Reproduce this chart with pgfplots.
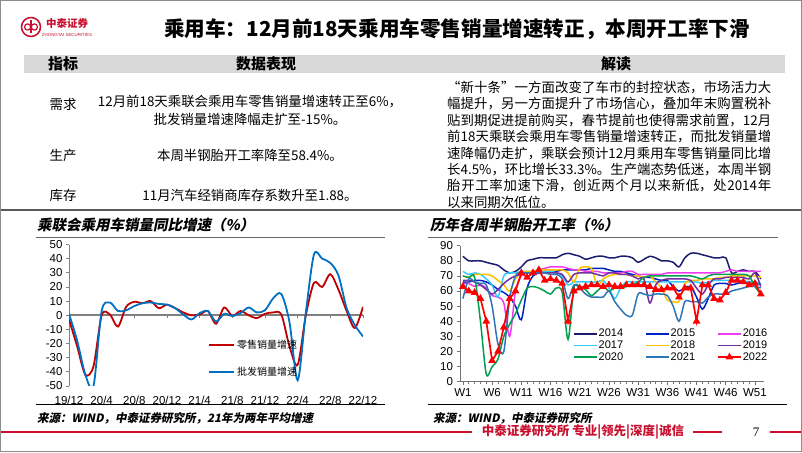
\documentclass[border=0pt]{standalone}
\usepackage{fontspec}
\usepackage{pgfplots}
\usepackage{pgfplotstable}
\pgfplotsset{compat=1.18}
\setmainfont{Liberation Sans}
\newfontfamily\cjk{Noto Sans CJK SC}
\newfontfamily\cjkit{Noto Sans CJK SC}[FakeSlant=0.2]
\newfontfamily\numserif{Liberation Serif}
\XeTeXlinebreaklocale "zh"
\XeTeXlinebreakskip=0pt plus 2pt

\definecolor{ztred}{RGB}{200,16,46}
\definecolor{retail}{RGB}{192,0,0}
\definecolor{whole}{RGB}{0,112,192}
\definecolor{c14}{RGB}{28,28,110}
\definecolor{c15}{RGB}{0,32,200}
\definecolor{c16}{RGB}{238,60,238}
\definecolor{c17}{RGB}{51,204,255}
\definecolor{c18}{RGB}{255,192,0}
\definecolor{c19}{RGB}{112,48,160}
\definecolor{c20}{RGB}{0,160,80}
\definecolor{c21}{RGB}{46,117,182}
\definecolor{c22}{RGB}{255,0,0}

% 乘联会零售 / 批发同比 (19/12 = 0 ... 22/12 = 36)
\pgfplotstableread{
m  retail whole
0  -3    1
1  -22  -18
2  -42  -42
3  -36  -50
4   0    3
5   0.5  9
6  -8    3
7   6    3.5
8   9.5  6.5
9   8.5  8.5
10  10   9
11  5    8
12  7.5  7.5
13  5    5
14  2    0.5
15  0   -3
16  0.5  1.5
17  3    3
18 -6   -4.5
19  5.5  1
20 -0.5 -0.5
21  3    1.5
22  0    5.5
23 -2    2
24  1    3.5
25  2    12
26  0.5  15
27 -22  -5
28 -35  -46
29  0    2
30  23   43
31  20   40
32  29   37
33  18   28
34  3    5
35 -9   -7
36  6   -15
}\salestab

% 半钢胎开工率, 各年各周
\pgfplotstableread{
w  y14 y15 y16 y17 y18 y19 y20 y21 y22
1  83 66 65 73 70 67 70 55 63
2  80 66 65 71 69 67 69 68 60
3  80 67 63 72 71 66 69 66 59
4  80 67 64 71 71 64 40 65 55
5  79 66 62 68 71 61 5  64 40
6  78 64 57 64 70 58 10 50 14
7  77 61 56 56 67 61 15 25 20
8  74 59 52 70 64 65 30 20 36
9  72 56 30 72 60 68 38 55 55
10 73 50 60 72 68 70 45 70 60
11 76 41 70 73 72 71 54 72 72
12 80 62 72 73 73 72 62 72 69
13 81 70 73 73 73 72 63 72 72
14 82 72 74 73 74 72 62 72 74
15 82 73 75 73 74 72 60 72 67
16 82 73 76 73 74 72 58 71 68
17 82 73 76 72 74 72 62 71 67
18 84 74 76 70 74 71 59 68 65
19 85 74 75 64 72 66 28 55 40
20 84 74 74 66 66 71 62 64 60
21 83 74 74 66 75 72 63 62 62
22 81 74 73 66 76 72 61 58 63
23 82 75 73 66 75 72 57 56 64
24 83 75 73 66 64 71 60 56 64
25 83 75 72 67 68 70 63 56 63
26 82 74 72 62 70 72 60 60 64
27 82 73 72 55 71 72 62 53 63
28 83 73 72 62 71 71 62 48 63
29 83 72 73 66 71 71 63 44 64
30 82 71 73 66 70 70 64 44 64
31 79 70 71 66 70 68 66 58 64
32 81 69 71 66 69 68 69 58 64
33 83 69 71 66 70 52 70 57 63
34 82 68 71 66 66 64 70 58 61
35 80 67 71 66 62 67 70 58 61
36 80 67 72 66 54 68 70 57 62
37 79 63 72 66 53 68 70 50 62
38 76 60 72 66 53 68 70 40 56
39 82 62 72 66 65 68 70 53 62
40 85 63 72 66 67 67 70 53 62
41 85 56 72 66 67 62 69 53 40
42 84 48 72 65 68 58 68 52 64
43 83 55 72 66 68 64 70 56 64
44 82 64 72 67 68 68 71 58 55
45 82 65 72 67 69 68 71 58 54
46 82 65 73 67 69 69 71 58 59
47 72 64 74 67 70 69 71 60 67
48 73 65 73 67 70 69 71 61 67
49 74 66 73 67 70 69 71 62 66
50 73 65 73 66 70 68 70 63 64
51 73 66 73 66 70 72 63 63 65
52 68 64 73 65 69 63 58 62 58
}\tyretab

\begin{document}
\begin{tikzpicture}
\begin{scope}[x=1pt,y=1pt]
\path[use as bounding box] (0,0) rectangle (802,452);
\draw[black!45, line width=1.2pt] (0.6,0.6) rectangle (801.4,451.4);

% logo + title
\draw[ztred, line width=1.5pt] (31,425) circle (9.5);
\draw[ztred, line width=1.2pt] (27.6,425) circle (3.1) (34.4,425) circle (3.1);
\draw[ztred, line width=1.2pt] (31,418.5) -- (31,431.5);
\node[ztred, font=\cjk\bfseries\fontsize{10.5}{10.5}\selectfont] at (67,429) {中泰证券};
\node[ztred, font=\fontsize{4.4}{4.4}\selectfont] at (67,417.5) {ZHONGTAI SECURITIES};
\node[font=\cjk\bfseries\fontsize{20.6}{21}\selectfont] at (457,423)
  {乘用车：12月前18天乘用车零售销量增速转正，本周开工率下滑};

% table
\fill[black!15] (24,397) rectangle (785,379);
\begin{scope}[font=\cjk\bfseries\fontsize{15}{15}\selectfont]
\node at (63,388) {指标};
\node at (266,388) {数据表现};
\node at (616,388) {解读};
\end{scope}
\begin{scope}[font=\cjk\fontsize{13.4}{16}\selectfont]
\node at (63,348) {需求};
\node at (250,350) {12月前18天乘联会乘用车零售销量增速转正至6\%，};
\node at (250,333) {批发销量增速降幅走扩至-15\%。};
\node at (63,297) {生产};
\node at (250,297) {本周半钢胎开工率降至58.4\%。};
\node at (63,257) {库存};
\node at (250,257) {11月汽车经销商库存系数升至1.88。};
\node[anchor=north west, inner sep=0pt, text width=324pt, align=justify,
      font=\cjk\fontsize{13.4}{16.4}\selectfont] at (447,371)
  {\noindent “新十条”一方面改变了车市的封控状态，市场活力大\linebreak
   幅提升，另一方面提升了市场信心，叠加年末购置税补\linebreak
   贴到期促进提前购买，春节提前也使得需求前置，12月\linebreak
   前18天乘联会乘用车零售销量增速转正，而批发销量增\linebreak
   速降幅仍走扩，乘联会预计12月乘用车零售销量同比增\linebreak
   长4.5\%，环比增长33.3\%。生产端态势低迷，本周半钢\linebreak
   胎开工率加速下滑，创近两个月以来新低，处2014年\linebreak
   以来同期次低位。};
\end{scope}
\draw[black!65, line width=1.8pt] (1,242) -- (801,242);

% chart titles, rules, sources
\begin{scope}[font=\cjkit\bfseries\fontsize{14.5}{14.5}\selectfont]
\node[anchor=west, inner sep=0pt] at (37,227) {乘联会乘用车销量同比增速（\%）};
\node[anchor=west, inner sep=0pt] at (430,227) {历年各周半钢胎开工率（\%）};
\end{scope}
\draw[black!60, line width=0.8pt] (36,215) -- (385,215);
\draw[black!60, line width=0.8pt] (428,215) -- (778,215);
\draw[black, line width=1pt] (36,47) -- (385,47);
\draw[black, line width=1pt] (428,47) -- (787,47);
\begin{scope}[font=\cjkit\bfseries\fontsize{11.5}{11.5}\selectfont]
\node[anchor=west, inner sep=0pt] at (37,34) {来源：WIND，中泰证券研究所，21年为两年平均增速};
\node[anchor=west, inner sep=0pt] at (433,34) {来源：WIND，中泰证券研究所};
\end{scope}

% footer
\draw[ztred, line width=2pt] (1,20) -- (472,20);
\draw[ztred, line width=2pt] (693,20) -- (722,20);
\draw[ztred, line width=2pt] (770,20) -- (801,20);
\node[ztred, font=\cjk\bfseries\fontsize{12.5}{12.5}\selectfont] at (583,20) {中泰证券研究所 专业|领先|深度|诚信};
\node[font=\numserif\fontsize{13}{13}\selectfont] at (756,20) {7};
\end{scope}

% left chart
\begin{axis}[
  at={(69pt,66pt)}, anchor=south west,
  scale only axis, width=294pt, height=141.5pt,
  xmin=0, xmax=36, ymin=-50, ymax=50,
  axis x line*=middle, axis y line*=left,
  hide obscured x ticks=false, hide obscured y ticks=false,
  x axis line style={draw=black!50, line width=1.8pt},
  y axis line style={draw=black!50, line width=0.8pt},
  xtick={0,4,...,36},
  xticklabels={19/12,20/4,20/8,20/12,21/4,21/8,21/12,22/4,22/8,22/12},
  xticklabel style={yshift=-74pt},
  ytick={-50,-40,...,50},
  tick align=outside, major tick length=3pt,
  tick style={draw=black!50, line width=0.8pt},
  tick label style={font=\fontsize{11.5}{12}\selectfont},
  /pgf/number format/assume math mode=true,
  legend cell align=left,
  legend style={at={(0.473,0.34)}, anchor=north west, draw=none, fill=none,
    inner sep=0pt, row sep=13pt, font=\cjk\fontsize{10}{10}\selectfont},
  legend image code/.code={\draw[#1] (0pt,0pt) -- (25pt,0pt);},
]
\addplot[retail, line width=1.8pt, smooth] table[x=m, y=retail] \salestab;
\addplot[whole, line width=1.8pt, smooth] table[x=m, y=whole] \salestab;
\legend{零售销量增速,批发销量增速}
\end{axis}

% right chart
\begin{axis}[
  at={(460pt,70.3pt)}, anchor=south west,
  scale only axis, width=303.7pt, height=136pt,
  xmin=0.5, xmax=52.5, ymin=0, ymax=90,
  axis x line*=bottom, axis y line*=left,
  axis line style={draw=black!55, line width=0.8pt},
  xtick={1,6,...,51},
  xticklabels={W1,W6,W11,W16,W21,W26,W31,W36,W41,W46,W51},
  minor x tick num=4,
  ytick={0,10,...,90},
  tick align=outside, major tick length=3.5pt, minor tick length=2.5pt,
  tick style={draw=black!55, line width=0.6pt},
  tick label style={font=\fontsize{11.5}{12}\selectfont},
  /pgf/number format/assume math mode=true,
  legend columns=3, legend cell align=left,
  legend style={at={(0.372,0.395)}, anchor=north west, draw=none, fill=none,
    inner sep=0pt, row sep=0.5pt, font=\fontsize{11}{11}\selectfont,
    nodes={inner sep=1pt},
    /tikz/every even column/.append style={column sep=21pt}},
  legend image code/.code={\draw[mark repeat=2,mark phase=2,#1] plot coordinates {(0pt,0pt) (11.5pt,0pt) (23pt,0pt)};},
]
\addplot[c14, line width=1.5pt, smooth] table[x=w, y=y14] \tyretab;
\addplot[c15, line width=1.5pt, smooth] table[x=w, y=y15] \tyretab;
\addplot[c16, line width=1.5pt, smooth] table[x=w, y=y16] \tyretab;
\addplot[c17, line width=1.5pt, smooth] table[x=w, y=y17] \tyretab;
\addplot[c18, line width=1.5pt, smooth] table[x=w, y=y18] \tyretab;
\addplot[c19, line width=1.5pt, smooth] table[x=w, y=y19] \tyretab;
\addplot[c20, line width=1.5pt, smooth] table[x=w, y=y20] \tyretab;
\addplot[c21, line width=1.5pt, smooth] table[x=w, y=y21] \tyretab;
\addplot[c22, line width=1.7pt, mark=triangle*, mark size=2.8pt] table[x=w, y=y22] \tyretab;
\legend{2014,2015,2016,2017,2018,2019,2020,2021,2022}
\end{axis}
\end{tikzpicture}
\end{document}
